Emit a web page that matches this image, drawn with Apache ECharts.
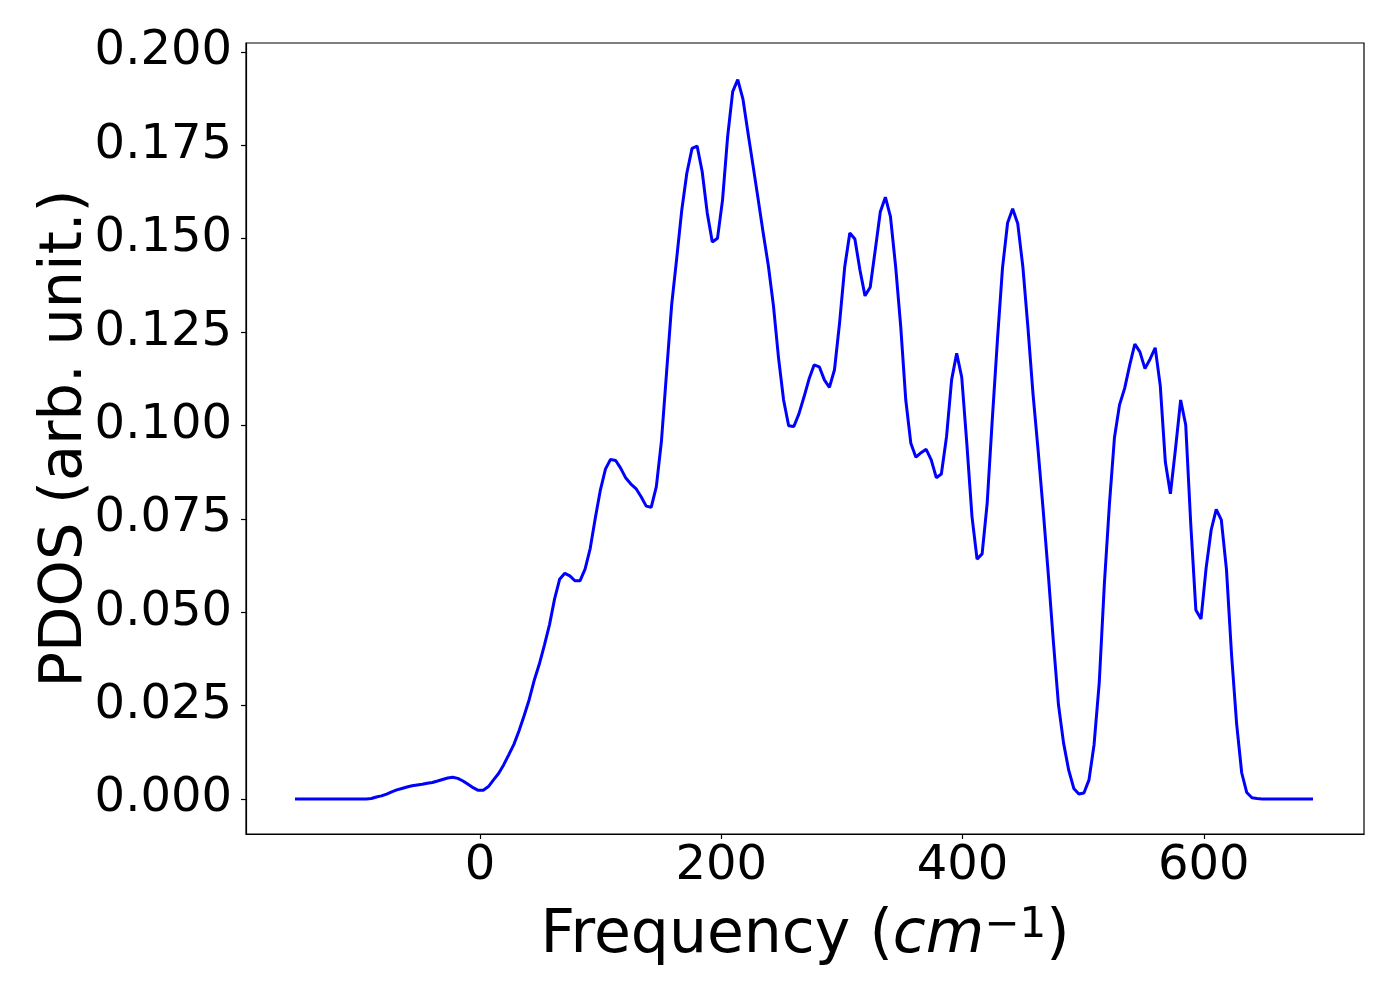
<!DOCTYPE html>
<html>
<head>
<meta charset="utf-8">
<script src="https://cdn.jsdelivr.net/npm/echarts@6.0.0/dist/echarts.min.js"></script>
<style>
  html, body { margin: 0; padding: 0; background: #fff; }
  #main { width: 1400px; height: 1000px; }
</style>
</head>
<body>
<div id="main"></div>
<script>
// Frequency grid (cm^-1)
const freq = [
  -153.5, -94.4, -90.2, -86.0, -81.8, -77.5, -73.3, -69.1, -64.9, -60.7,
  -56.4, -52.2, -48.0, -43.8, -39.6, -35.3, -31.1, -26.9, -22.7, -18.5,
  -14.2, -10.0, -5.8, -1.6, 2.6, 6.9, 11.1, 15.3, 19.5, 23.7,
  28.0, 32.2, 36.4, 40.6, 44.8, 49.1, 53.3, 57.5, 61.7, 65.9,
  70.2, 74.4, 78.6, 82.8, 87.0, 91.3, 95.5, 99.7, 103.9, 108.1,
  112.4, 116.6, 120.8, 125.0, 129.2, 133.5, 137.7, 141.9, 146.1, 150.3,
  154.6, 158.8, 163.0, 167.2, 171.4, 175.7, 179.9, 184.1, 188.3, 192.5,
  196.8, 201.0, 205.2, 209.4, 213.6, 217.9, 222.1, 226.3, 230.5, 234.7,
  239.0, 243.2, 247.4, 251.6, 255.8, 260.1, 264.3, 268.5, 272.7, 276.9,
  281.2, 285.4, 289.6, 293.8, 298.0, 302.3, 306.5, 310.7, 314.9, 319.1,
  323.4, 327.6, 331.8, 336.0, 340.2, 344.5, 348.7, 352.9, 357.1, 361.3,
  365.6, 369.8, 374.0, 378.2, 382.4, 386.7, 390.9, 395.1, 399.3, 403.5,
  407.8, 412.0, 416.2, 420.4, 424.6, 428.9, 433.1, 437.3, 441.5, 445.7,
  450.0, 454.2, 458.4, 462.6, 466.8, 471.1, 475.3, 479.5, 483.7, 487.9,
  492.2, 496.4, 500.6, 504.8, 509.0, 513.3, 517.5, 521.7, 525.9, 530.1,
  534.4, 538.6, 542.8, 547.0, 551.2, 555.5, 559.7, 563.9, 568.1, 572.3,
  576.6, 580.8, 585.0, 589.2, 593.4, 597.7, 601.9, 606.1, 610.3, 614.5,
  618.8, 623.0, 627.2, 631.4, 635.6, 639.9, 644.1, 648.3, 690.5
];
// PDOS values (arb. unit)
const pdos = [
  0.0000, 0.0000, 0.0001, 0.0005, 0.0008, 0.0013, 0.0019, 0.0024, 0.0028, 0.0032,
  0.0035, 0.0037, 0.0039, 0.0042, 0.0044, 0.0048, 0.0052, 0.0056, 0.0058, 0.0055,
  0.0048, 0.0039, 0.0030, 0.0023, 0.0023, 0.0033, 0.0051, 0.0068, 0.0091, 0.0118,
  0.0146, 0.0182, 0.0222, 0.0265, 0.0317, 0.0361, 0.0412, 0.0466, 0.0535, 0.0588,
  0.0604, 0.0597, 0.0584, 0.0584, 0.0615, 0.0671, 0.0752, 0.0827, 0.0883, 0.0909,
  0.0906, 0.0885, 0.0859, 0.0843, 0.0831, 0.0809, 0.0784, 0.0781, 0.0836, 0.0957,
  0.1143, 0.1323, 0.1448, 0.1577, 0.1676, 0.1742, 0.1748, 0.1680, 0.1569, 0.1491,
  0.1501, 0.1604, 0.1773, 0.1894, 0.1926, 0.1874, 0.1783, 0.1695, 0.1606, 0.1515,
  0.1427, 0.1320, 0.1181, 0.1068, 0.0999, 0.0997, 0.1031, 0.1076, 0.1124, 0.1162,
  0.1157, 0.1122, 0.1102, 0.1149, 0.1274, 0.1425, 0.1515, 0.1499, 0.1416, 0.1347,
  0.1370, 0.1470, 0.1572, 0.1611, 0.1559, 0.1425, 0.1265, 0.1068, 0.0952, 0.0915,
  0.0927, 0.0936, 0.0908, 0.0860, 0.0870, 0.0970, 0.1122, 0.1193, 0.1129, 0.0952,
  0.0756, 0.0642, 0.0656, 0.0792, 0.1015, 0.1229, 0.1422, 0.1542, 0.1580, 0.1541,
  0.1424, 0.1261, 0.1084, 0.0934, 0.0774, 0.0600, 0.0420, 0.0252, 0.0150, 0.0078,
  0.0028, 0.0013, 0.0016, 0.0051, 0.0145, 0.0311, 0.0573, 0.0787, 0.0967, 0.1055,
  0.1100, 0.1162, 0.1218, 0.1197, 0.1152, 0.1178, 0.1208, 0.1106, 0.0902, 0.0817,
  0.0940, 0.1068, 0.1001, 0.0734, 0.0506, 0.0482, 0.0618, 0.0720, 0.0775, 0.0747,
  0.0613, 0.0386, 0.0201, 0.0070, 0.0017, 0.0003, 0.0001, 0.0000, 0.0000
];
const xTicks = [0, 200, 400, 600];
const yTicks = [0, 0.025, 0.05, 0.075, 0.1, 0.125, 0.15, 0.175, 0.2];

const points = freq.map((f, i) => [f, pdos[i]]);
const FONT = 'DejaVu Sans';

const chart = echarts.init(document.getElementById('main'), null, { renderer: 'canvas' });
chart.setOption({
  animation: false,
  backgroundColor: '#ffffff',
  grid: {
    left: 246, top: 43, width: 1118, height: 791,
    show: true, borderColor: '#000', borderWidth: 1.2, backgroundColor: 'transparent'
  },
  xAxis: {
    type: 'value', min: -194.1, max: 732.8,
    splitLine: { show: false },
    axisLine: { show: true, onZero: false, lineStyle: { color: '#000', width: 1.2 } },
    axisTick: { show: true, inside: false, length: 5, lineStyle: { color: '#000', width: 1.2 }, customValues: xTicks },
    axisLabel: { customValues: xTicks, fontSize: 48, color: '#000', fontFamily: FONT, margin: 9 },
    name: 'Frequency ({i|cm}{s|\u22121})',
    nameLocation: 'middle',
    nameMoveOverlap: false,
    nameGap: 71,
    nameTextStyle: {
      fontSize: 60, fontFamily: FONT, color: '#000', lineHeight: 62,
      rich: {
        i: { fontSize: 60, fontFamily: FONT, fontStyle: 'italic', color: '#000', lineHeight: 62 },
        s: { fontSize: 42, fontFamily: FONT, color: '#000', lineHeight: 26, verticalAlign: 'top' }
      }
    }
  },
  yAxis: {
    type: 'value', min: -0.0094, max: 0.2024,
    splitLine: { show: false },
    axisLine: { show: true, onZero: false, lineStyle: { color: '#000', width: 1.2 } },
    axisTick: { show: true, inside: false, length: 5, lineStyle: { color: '#000', width: 1.2 }, customValues: yTicks },
    axisLabel: {
      customValues: yTicks, fontSize: 48, color: '#000', fontFamily: FONT, margin: 14,
      formatter: v => Number(v).toFixed(3)
    },
    name: 'PDOS (arb. unit.)',
    nameLocation: 'middle',
    nameMoveOverlap: false,
    nameRotate: 90,
    nameGap: 151,
    nameTextStyle: { fontSize: 59, fontFamily: FONT, color: '#000' }
  },
  series: [{
    type: 'line',
    data: points,
    showSymbol: false,
    symbol: 'none',
    lineStyle: { color: '#0000ff', width: 3 },
    itemStyle: { color: '#0000ff' },
    clip: true
  }]
});
</script>
</body>
</html>
